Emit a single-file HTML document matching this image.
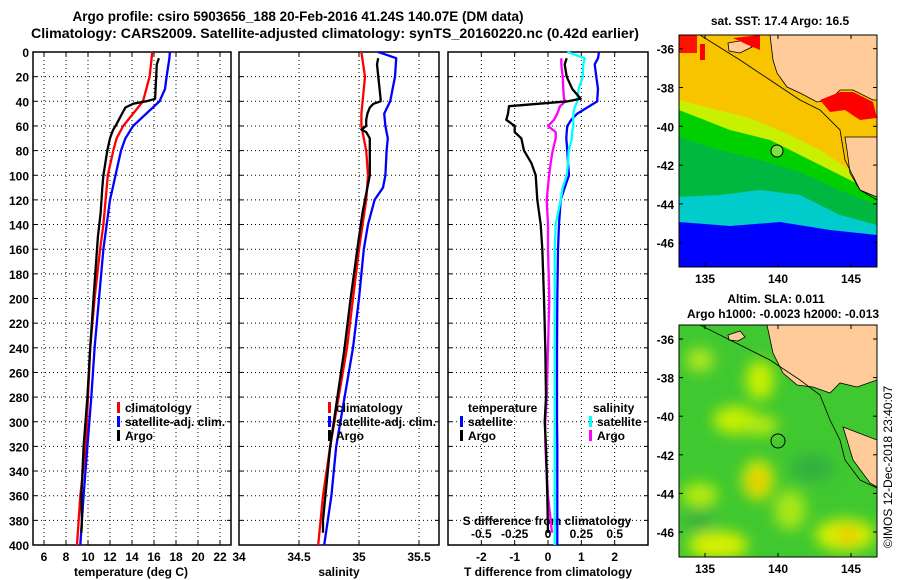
<!DOCTYPE html>
<html><head><meta charset="utf-8"><style>
html,body{margin:0;padding:0;background:#fff;}
svg{display:block;font-family:"Liberation Sans",Arial,sans-serif;font-weight:bold;}
</style></head><body>
<svg id="s" width="900" height="580" viewBox="0 0 900 580">
<defs>
<filter id="blur" x="-20%" y="-20%" width="140%" height="140%"><feGaussianBlur stdDeviation="7"/></filter>
<clipPath id="clipTop"><rect x="679" y="35" width="198" height="232"/></clipPath>
<clipPath id="clipBot"><rect x="679" y="325" width="198" height="232"/></clipPath>
</defs>
<text x="298" y="21" text-anchor="middle" font-size="13.5">Argo profile: csiro 5903656_188 20-Feb-2016 41.24S 140.07E (DM data)</text>
<text x="335" y="38" text-anchor="middle" font-size="13.5" textLength="608" lengthAdjust="spacingAndGlyphs">Climatology: CARS2009. Satellite-adjusted climatology: synTS_20160220.nc (0.42d earlier)</text>

<g clip-path="url(#clipTop)">
<rect x="679" y="35" width="198" height="232" fill="#0000ff"/>
<polygon points="679,35 877,35 877,235 830,230 780,222 730,226 679,222" fill="#00cccc"/>
<polygon points="679,35 877,35 877,225 840,215 800,195 760,190 720,195 679,197" fill="#00b840"/>
<polygon points="679,35 877,35 877,205 840,190 800,172 760,160 720,150 679,137" fill="#00d000"/>
<polygon points="679,35 877,35 877,195 850,180 810,160 770,140 730,130 679,110" fill="#c8f000"/>
<polygon points="679,35 877,35 877,190 850,170 820,150 790,135 750,118 710,108 679,100" fill="#f8c400"/>
<rect x="679" y="35" width="18" height="18" fill="#ff0000" opacity="0.9"/>
<rect x="700" y="44" width="5" height="16" fill="#ff0000"/>
<polygon points="770,35 773,60 777,73 787,87 800,93 817,102 830,100 840,90 853,90 873,100 877,100 877,35" fill="#ffcc99" stroke="#000" stroke-width="0.8"/>
<polygon points="820,100 840,92 853,92 873,102 877,118 860,120 845,110 830,112" fill="#ff0000"/>
<polygon points="845,137 877,137 877,197 860,190 850,173 847,150" fill="#ffcc99" stroke="#000" stroke-width="0.8"/>
<polygon points="728,43 745,40 752,47 740,53 729,51" fill="#ffcc99" stroke="#000" stroke-width="0.8"/>
<polygon points="733,38 760,35 760,50 748,45" fill="#ff0000"/>
<polyline points="700,35 740,60 770,80 800,100 820,110 840,130 845,160 860,190 877,200" fill="none" stroke="#000" stroke-width="0.8"/>
<circle cx="777" cy="151" r="6" fill="#80e040" stroke="#000" stroke-width="1"/>
</g>
<rect x="679" y="35" width="198" height="232" fill="none" stroke="#000" stroke-width="1"/>
<text x="780" y="25" text-anchor="middle" font-size="12">sat. SST: 17.4 Argo: 16.5</text>

<g clip-path="url(#clipBot)">
<rect x="679" y="325" width="198" height="232" fill="#40c830"/>
<g filter="url(#blur)">
<ellipse cx="700" cy="360" rx="14" ry="12" fill="#b0e820"/>
<ellipse cx="760" cy="380" rx="14" ry="20" fill="#c8f000"/>
<ellipse cx="735" cy="420" rx="22" ry="14" fill="#c8f000"/>
<ellipse cx="760" cy="425" rx="18" ry="10" fill="#b8ec10"/>
<ellipse cx="758" cy="480" rx="16" ry="20" fill="#d8e800"/>
<ellipse cx="758" cy="482" rx="7" ry="9" fill="#f0b800"/>
<ellipse cx="700" cy="495" rx="18" ry="12" fill="#b8ec10"/>
<ellipse cx="718" cy="545" rx="30" ry="14" fill="#d8f000"/>
<ellipse cx="845" cy="535" rx="30" ry="16" fill="#d8f000"/>
<ellipse cx="848" cy="535" rx="10" ry="8" fill="#f0c000"/>
<ellipse cx="812" cy="468" rx="22" ry="14" fill="#30b040"/>
<ellipse cx="700" cy="520" rx="14" ry="10" fill="#30b040"/>
<ellipse cx="790" cy="510" rx="16" ry="20" fill="#a8e818"/>
</g>
<polygon points="767,325 773,353 783,373 797,385 813,387 830,393 840,383 857,387 877,380 877,325" fill="#ffcc99" stroke="#000" stroke-width="0.8"/>
<polygon points="843,427 877,440 877,487 870,483 853,460 847,440" fill="#ffcc99" stroke="#000" stroke-width="0.8"/>
<polygon points="728,335 740,331 745,337 738,341 729,340" fill="#ffcc99" stroke="#000" stroke-width="0.8"/>
<polyline points="700,325 720,335 740,345 770,360 800,380 820,395 830,420 840,440 845,460 860,480 877,488" fill="none" stroke="#000" stroke-width="0.8"/>
<circle cx="778" cy="441" r="7" fill="none" stroke="#000" stroke-width="1"/>
</g>
<rect x="679" y="325" width="198" height="232" fill="none" stroke="#000" stroke-width="1"/>
<text x="776" y="303" text-anchor="middle" font-size="12">Altim. SLA: 0.011</text>
<text x="783" y="318" text-anchor="middle" font-size="12">Argo h1000: -0.0023 h2000: -0.013</text>
<text transform="translate(892,467) rotate(-90)" text-anchor="middle" font-size="12" font-weight="normal">©IMOS 12-Dec-2018 23:40:07</text>
<g id="g"></g>
</svg>
<script>
const depthTicks = [0,20,40,60,80,100,120,140,160,180,200,220,240,260,280,300,320,340,360,380,400];
const tempTicks = [6,8,10,12,14,16,18,20,22];
const salTicks = [34,34.5,35,35.5];
const tdiffTicks = [-2,-1,0,1,2];
const sdiffTicks = [-0.5,-0.25,0,0.25,0.5];
const sdiffTickLabels = ["-0.5","-0.25","0","0.25","0.5"];
const lonTicks = [135,140,145];
const latTicksTop = [-36,-38,-40,-42,-44,-46];

const climDepth = [0,20,40,50,60,70,80,100,120,140,160,200,240,280,320,360,400];
const climTemp  = [15.85,15.6,15.0,14.1,13.2,12.6,12.3,11.8,11.6,11.4,11.1,10.6,10.2,10.0,9.8,9.3,9.0];
const climSal   = [35.02,35.05,35.03,35.02,35.02,35.04,35.06,35.075,35.06,35.03,35.0,34.95,34.9,34.83,34.76,34.70,34.66];

const satDepth = [0,5,20,30,40,50,60,70,80,100,110,120,140,160,200,240,280,320,360,400];
const satTemp  = [17.45,17.4,17.15,17.0,16.5,15.3,14.1,13.4,13.0,12.5,12.25,12.0,11.7,11.4,11.0,10.6,10.3,9.95,9.6,9.3];
const satSal   = [35.16,35.31,35.30,35.28,35.26,35.21,35.22,35.24,35.23,35.22,35.20,35.13,35.075,35.04,35.0,34.95,34.88,34.81,34.77,34.71];

const argoDepth = [5,10,38,40,42,45,50,55,60,63,65,70,80,100,110,130,150,200,240,280,320,340,360,380,390];
const argoTemp  = [16.45,16.25,16.1,15.3,14.1,13.4,13.1,12.8,12.5,12.3,12.2,12.0,11.75,11.4,11.3,11.15,10.9,10.5,10.2,9.95,9.6,9.5,9.4,9.45,9.4];
const argoSal   = [35.16,35.15,35.18,35.18,35.12,35.09,35.07,35.06,35.06,35.02,35.06,35.09,35.09,35.09,35.07,35.03,35.0,34.93,34.88,34.82,34.76,34.74,34.72,34.70,34.70];

const dDepth = [0,5,10,20,30,38,40,45,50,55,60,65,70,80,90,100,110,120,140,160,200,240,280,300,320,360,390,400];
const tSatDiff  = [1.53,1.5,1.4,1.45,1.5,1.48,1.48,1.18,0.88,0.7,0.58,0.56,0.55,0.58,0.6,0.63,0.5,0.38,0.33,0.3,0.28,0.27,0.27,0.27,0.28,0.28,0.28,0.28];
const sSatDiff  = [0.145,0.275,0.265,0.26,0.23,0.22,0.22,0.2,0.19,0.19,0.19,0.18,0.18,0.155,0.15,0.14,0.11,0.095,0.058,0.05,0.05,0.05,0.05,0.05,0.05,0.05,0.05,0.05];
const argoDDepth = [5,10,20,30,38,40,44,50,55,60,65,70,80,90,100,120,140,160,200,240,280,300,320,360,390];
const tArgoDiff = [0.56,0.5,0.56,0.73,0.98,0.6,-1.17,-1.2,-1.25,-1.0,-1.0,-0.8,-0.72,-0.5,-0.37,-0.32,-0.22,-0.17,-0.12,-0.08,-0.06,-0.1,-0.06,-0.02,0.0];
const sArgoDiff = [0.10,0.10,0.11,0.115,0.12,0.133,0.09,0.07,0.045,0.0,0.058,0.058,0.035,0.02,0.008,-0.01,0.0,0.0,0.01,0.0,-0.01,-0.02,-0.02,0.0,0.03];

const NS="http://www.w3.org/2000/svg";
const G=document.getElementById('g');
const Y0=52, Y1=545;
function yD(d){return Y0+(d/400)*(Y1-Y0);}
const P1={x0:33,x1:231,min:5,max:23};
const P2={x0:239,x1:439,min:34,max:35+2/3};
const P3={x0:448,x1:648,min:-3,max:3};
const P3s={x0:448,x1:648,min:-0.75,max:0.75};
function xf(p){return v=>p.x0+(v-p.min)/(p.max-p.min)*(p.x1-p.x0);}
const xT=xf(P1), xS=xf(P2), xTd=xf(P3), xSd=xf(P3s);
function el(tag,attrs,parent){const e=document.createElementNS(NS,tag);for(const k in attrs)e.setAttribute(k,attrs[k]);(parent||G).appendChild(e);return e;}
function txt(x,y,s,size,anchor,name){const t=el('text',{x:x,y:y,'font-size':size,'text-anchor':anchor||'middle'});t.textContent=s;


return t;}

function panel(p,xticks,xfun,name){
  const grp=el('g',{});
  
  
  depthTicks.forEach(d=>{if(d>0&&d<400)el('line',{x1:p.x0,x2:p.x1,y1:yD(d),y2:yD(d),stroke:'#000','stroke-width':1,'stroke-dasharray':'1,3'},grp);
    el('line',{x1:p.x0,x2:p.x0+4,y1:yD(d),y2:yD(d),stroke:'#000'},grp);
    el('line',{x1:p.x1-4,x2:p.x1,y1:yD(d),y2:yD(d),stroke:'#000'},grp);});
  xticks.forEach(v=>{const x=xfun(v);if(x>p.x0+1&&x<p.x1-1)el('line',{x1:x,x2:x,y1:Y0,y2:Y1,stroke:'#000','stroke-dasharray':'1,3'},grp);
    el('line',{x1:x,x2:x,y1:Y1-4,y2:Y1,stroke:'#000'},grp);el('line',{x1:x,x2:x,y1:Y0,y2:Y0+4,stroke:'#000'},grp);});
  el('rect',{x:p.x0,y:Y0,width:p.x1-p.x0,height:Y1-Y0,fill:'none',stroke:'#000','stroke-width':1.5},grp);
}
panel(P1,tempTicks,xT,'temperature-panel');
panel(P2,salTicks,xS,'salinity-panel');
panel(P3,tdiffTicks,xTd,'difference-panel');

depthTicks.forEach(d=>txt(29,yD(d)+5,String(d),12,'end','depth-tick-label'));
tempTicks.forEach(v=>txt(xT(v),561,String(v),12,'middle','temperature-tick-label'));
salTicks.forEach(v=>txt(xS(v),561,String(v),12,'middle','salinity-tick-label'));
tdiffTicks.forEach(v=>txt(xTd(v),561,String(v),12,'middle','tdiff-tick-label'));
sdiffTicks.forEach((v,i)=>txt(xSd(v),538,sdiffTickLabels[i],12,'middle','sdiff-tick-label'));
txt(131,576,'temperature (deg C)',12,'middle','temperature-axis-title');
txt(339,576,'salinity',12,'middle','salinity-axis-title');
txt(548,576,'T difference from climatology',12,'middle','tdiff-axis-title');
txt(547,525,'S difference from climatology',12,'middle','sdiff-axis-title');

function line(depths,vals,xfun,color,name){
  const pts=depths.map((d,i)=>xfun(vals[i]).toFixed(1)+','+yD(d).toFixed(1)).join(' ');
  const l=el('polyline',{points:pts,fill:'none',stroke:color,'stroke-width':2.3,'stroke-linejoin':'round'});
  
  
}
line(climDepth,climTemp,xT,'#ff0000','climatology-temperature-line');
line(satDepth,satTemp,xT,'#0000ff','satellite-temperature-line');
line(argoDepth,argoTemp,xT,'#000','argo-temperature-line');
line(climDepth,climSal,xS,'#ff0000','climatology-salinity-line');
line(satDepth,satSal,xS,'#0000ff','satellite-salinity-line');
line(argoDepth,argoSal,xS,'#000','argo-salinity-line');
line(dDepth,tSatDiff,xTd,'#0000ff','satellite-tdiff-line');
line(dDepth,sSatDiff,xSd,'#00ffff','satellite-sdiff-line');
line(argoDDepth,sArgoDiff,xSd,'#ff00ff','argo-sdiff-line');
line(argoDDepth,tArgoDiff,xTd,'#000','argo-tdiff-line');

function leg(x,y,color,label,name){
  if(color){el('rect',{x:x,y:y-10,width:3,height:11,fill:color});}
  txt(x+8,y,label,12,'start',name);
}
leg(117,412,'#ff0000','climatology','legend-climatology');
leg(117,426,'#0000ff','satellite-adj. clim.','legend-satellite-adj');
leg(117,440,'#000','Argo','legend-argo');
leg(328,412,'#ff0000','climatology','legend-sal-climatology');
leg(328,426,'#0000ff','satellite-adj. clim.','legend-sal-satellite-adj');
leg(328,440,'#000','Argo','legend-sal-argo');
txt(468,412,'temperature',12,'start','legend-temperature-header');
leg(460,426,'#0000ff','satellite','legend-t-satellite');
leg(460,440,'#000','Argo','legend-t-argo');
txt(593,412,'salinity',12,'start','legend-salinity-header');
leg(589,426,'#00ffff','satellite','legend-s-satellite');
leg(589,440,'#ff00ff','Argo','legend-s-argo');

function lonX(l){return 705+(l-135)*14.6;}
function latYTop(l){return 48.7+(-36-l)*19.4;}
function latYBot(l){return 339+(-36-l)*19.3;}
[[267,latYTop,35],[557,latYBot,325]].forEach(([yb,lf,yt])=>{
  lonTicks.forEach(l=>{el('line',{x1:lonX(l),x2:lonX(l),y1:yb-4,y2:yb,stroke:'#000'});el('line',{x1:lonX(l),x2:lonX(l),y1:yt,y2:yt+4,stroke:'#000'});
    txt(lonX(l),yb+16,String(l),12,'middle','map-lon-label');});
  latTicksTop.forEach(l=>{const y=lf(l);el('line',{x1:679,x2:683,y1:y,y2:y,stroke:'#000'});el('line',{x1:873,x2:877,y1:y,y2:y,stroke:'#000'});
    txt(674,y+5,String(l),12,'end','map-lat-label');});
});
</script>
</body></html>
